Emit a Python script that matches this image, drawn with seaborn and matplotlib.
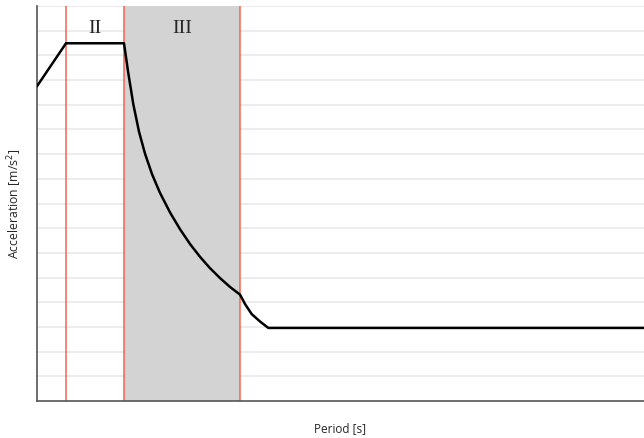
import numpy as np
import pandas as pd
import seaborn as sns
import matplotlib.pyplot as plt

# spectrum curve (period, acceleration in grid units)
period = [0.0, 0.1, 0.3, 0.3148, 0.3321, 0.3517, 0.3724, 0.3966, 0.4241, 0.4586,
          0.4931, 0.5276, 0.5621, 0.5966, 0.631, 0.6655, 0.70, 0.7172, 0.7403,
          0.769, 0.7976, 2.1]
accel = [12.75, 14.49, 14.49, 13.28, 12.02, 10.91, 10.02, 9.19, 8.43, 7.64,
         6.96, 6.36, 5.84, 5.38, 4.98, 4.62, 4.31, 3.93, 3.52,
         3.22, 2.96, 2.96]

# corner periods (T_B, T_C, T_D)
corners = [0.1, 0.3, 0.7]
zone_labels = ["II", "III"]

sns.set_style("white")
plt.rcParams['font.family'] = ['Open Sans', 'DejaVu Sans']

fig = plt.figure(figsize=(6.44, 4.38), dpi=100)
ax = fig.add_axes([37 / 644, 37 / 438, 1 - 37 / 644, 395 / 438])

df = pd.DataFrame({'period': period, 'accel': accel})

# horizontal grid
for v in range(1, 17):
    ax.axhline(v, color='#ebebeb', lw=1.3, zorder=0.5)

# shaded region III (covers the grid)
ax.axvspan(corners[1], corners[2], color='#d3d3d3', lw=0, zorder=1)

for c in corners:
    ax.axvline(c, color='#f2654e', lw=1.1, zorder=2)

sns.lineplot(data=df, x='period', y='accel', color='black', lw=1.8, ax=ax, zorder=3)
ax.lines[-1].set_solid_joinstyle('round')

ax.text((corners[0] + corners[1]) / 2, 15.1, zone_labels[0], ha='center', va='center',
        fontsize=14, family='Liberation Serif', zorder=4)
ax.text((corners[1] + corners[2]) / 2, 15.1, zone_labels[1], ha='center', va='center',
        fontsize=14, family='Liberation Serif', zorder=4)

ax.set_xlim(0, 2.093)
ax.set_ylim(0, 16)
ax.set_xticks([])
ax.set_yticks([])
ax.set_xlabel('Period [s]', fontsize=8.5, labelpad=15)
ax.set_ylabel('Acceleration [m/s$^2$]', fontsize=8.8, labelpad=9)

for s in ['top', 'right']:
    ax.spines[s].set_visible(False)
for s in ['left', 'bottom']:
    ax.spines[s].set_color('#555555')
    ax.spines[s].set_linewidth(1.2)

plt.savefig('out.png', dpi=100)
